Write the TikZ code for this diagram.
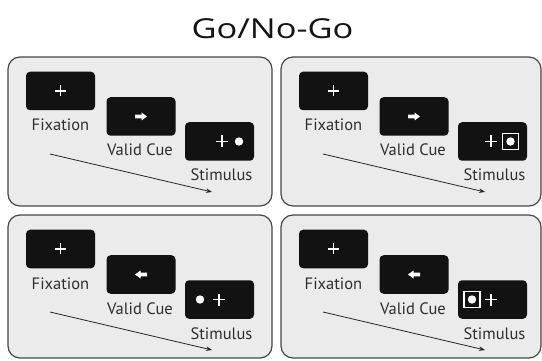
\documentclass[tikz,border=0pt]{standalone}
\usepackage{fontspec}
\setmainfont{Open Sans}
\newfontfamily\lblfont{PT Sans}
\usetikzlibrary{arrows.meta}
\tikzset{
  panelbox/.style={draw=black!72, line width=1.2pt, fill=black!8, rounded corners=12pt, inner sep=0pt},
  screen/.style={fill=black!93, rounded corners=4pt, minimum width=69pt, minimum height=38.5pt, inner sep=0pt},
  lbl/.style={font=\lblfont\fontsize{16.5}{18}\selectfont, text=black!82, anchor=base, inner sep=0pt},
  flow/.style={-{Stealth[length=6pt,width=4.5pt]}, line width=0.8pt, draw=black!85},
  wplus/.style={draw=white, line width=1.4pt},
  bplus/.style={draw=white, line width=1.5pt},
}
\newcommand\gopanel[5]{% #1 prefix, #2 dx, #3 dy, #4 cue direction, #5 stimulus content
\begin{scope}[shift={(#2,#3)}]
  \node[screen] (#1fix) at (60.5,91) {};
  \draw[wplus] ([xshift=-5.5pt]#1fix.center) -- ([xshift=5.5pt]#1fix.center)
               ([yshift=-5.5pt]#1fix.center) -- ([yshift=5.5pt]#1fix.center);
  \node[lbl] (#1fixl) at (60.5,131) {Fixation};
  \node[screen] (#1cue) at (141,116.5) {};
  \begin{scope}[shift={(#1cue.center)}, xscale=#4]
    \fill[white] (-6,-1.8) -- (0.5,-1.8) -- (0.5,-4) -- (6,0) -- (0.5,4) -- (0.5,1.8) -- (-6,1.8) -- cycle;
  \end{scope}
  \node[lbl] (#1cuel) at (140,156) {Valid Cue};
  \node[screen] (#1stim) at (219.5,141.5) {};
  \begin{scope}[shift={(#1stim.center)}]
    #5
  \end{scope}
  \node[lbl] (#1stiml) at (221.5,181) {Stimulus};
  \coordinate (#1from) at (50,154);
  \coordinate (#1to) at (212,192);
  \draw[flow] (#1from) -- (#1to);
\end{scope}}
\begin{document}
\begin{tikzpicture}[x=1pt,y=-1pt]
  \fill[white] (0,0) rectangle (542,361);
  \useasboundingbox (0,0) rectangle (542,361);
  \node[anchor=base, inner sep=0pt, text=black!92] (title) at (272.5,39)
    {\fontsize{27.5}{30}\selectfont\scalebox{1.25}[1]{Go/No-Go}};
  \node[panelbox, minimum width=264pt, minimum height=149pt] (p1) at (140,131.5) {};
  \node[panelbox, minimum width=260pt, minimum height=149pt] (p2) at (411,131.5) {};
  \node[panelbox, minimum width=264pt, minimum height=143pt] (p3) at (140,286.5) {};
  \node[panelbox, minimum width=260pt, minimum height=143pt] (p4) at (411,286.5) {};
  \gopanel{a}{0}{0}{1}{%
    \draw[bplus] (-3.5,0) -- (8.5,0) (2.5,-6) -- (2.5,6);
    \fill[white] (19.5,0) circle (4.2);}
  \gopanel{b}{273}{0}{1}{%
    \draw[bplus] (-7.5,0) -- (4.5,0) (-1.5,-6) -- (-1.5,6);
    \draw[white, line width=1.1pt] (10,-8) rectangle (26,8);
    \fill[white] (18,0) circle (4.2);}
  \gopanel{c}{0}{158}{-1}{%
    \fill[white] (-19.5,0) circle (4.2);
    \draw[bplus] (-6.5,0) -- (5.5,0) (-0.5,-6) -- (-0.5,6);}
  \gopanel{d}{273}{158}{-1}{%
    \draw[white, line width=1.1pt] (-28.5,-8) rectangle (-12.5,8);
    \fill[white] (-20.5,0) circle (4.2);
    \draw[bplus] (-7.5,0) -- (4.5,0) (-1.5,-6) -- (-1.5,6);}
\end{tikzpicture}
\end{document}
